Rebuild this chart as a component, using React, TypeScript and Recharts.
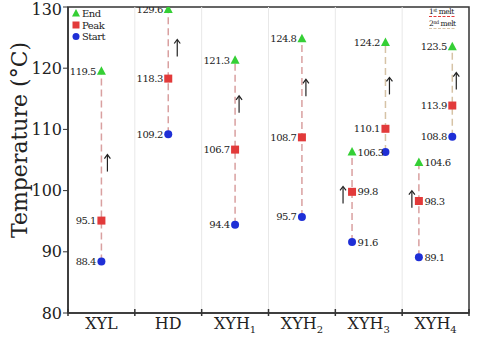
import React from 'react';
import {
  ComposedChart, Scatter, XAxis, YAxis, ReferenceLine, ReferenceArea, Customized,
} from 'recharts';

const categories = ['XYL', 'HD', 'XYH1', 'XYH2', 'XYH3', 'XYH4'];
const yTicks = [80, 90, 100, 110, 120, 130];

// 1st melt (all samples)
const firstStart = [88.4, 109.2, 94.4, 95.7, 91.6, 89.1];
const firstPeak = [95.1, 118.3, 106.7, 108.7, 99.8, 98.3];
const firstEnd = [119.5, 129.6, 121.3, 124.8, 106.3, 104.6];
// 2nd melt (only XYH3 / XYH4)
const secondStart = [null, null, null, null, 106.3, 108.8];
const secondPeak = [null, null, null, null, 110.1, 113.9];
const secondEnd = [null, null, null, null, 124.2, 123.5];
// arrow annotations (temperature at arrow middle)
const firstArrow = [104.5, 123.3, 114.1, 116.8, 99.3, 98.6];
const secondArrow = [null, null, null, null, 117.1, 117.9];

// Liberation Serif resolves to a sans face in this sandbox, so use DejaVu Serif
const FONT = 'DejaVu Serif';
const GREEN = '#35cf35';
const RED = '#e23a3a';
const BLUE = '#1f2fd6';
const DASH1 = '#d9a0a0';
const DASH2 = '#d6c3a6';
const AXIS = '#333';

type Pt = { x: number; y: number; side: 'left' | 'right' | 'none'; shift?: number };

const hasSecond = (i: number) => secondStart[i] != null;
const xFirst = (i: number) => (hasSecond(i) ? i + 0.25 : i + 0.5);
const xSecond = (i: number) => i + 0.75;

function pts(vals: (number | null)[], xf: (i: number) => number, sideOf: (i: number) => Pt['side']): Pt[] {
  const out: Pt[] = [];
  vals.forEach((v, i) => {
    if (v != null) out.push({ x: xf(i), y: v, side: sideOf(i) });
  });
  return out;
}

const side1 = (i: number) => (hasSecond(i) ? 'right' : 'left') as Pt['side'];
const side2 = () => 'left' as Pt['side'];

const startPts = [
  ...pts(firstStart, xFirst, side1),
  // XYH3 2nd-melt start shares its label with the 1st-melt end
  ...pts(secondStart, xSecond, (i) => (i === 4 ? 'none' : 'left')),
];
const peakPts = [...pts(firstPeak, xFirst, side1), ...pts(secondPeak, xSecond, side2)];
const endPts = [...pts(firstEnd, xFirst, side1), ...pts(secondEnd, xSecond, side2)];

const arrowShiftFirst = [6, 9, 4, 4, -9, -7];
const arrowPts = [
  ...firstArrow.map((v, i) => ({ x: xFirst(i), y: v, shift: arrowShiftFirst[i] })),
  ...secondArrow
    .map((v, i) => (v == null ? null : { x: xSecond(i), y: v, shift: 4 }))
    .filter(Boolean),
];

const segments = categories.flatMap((_, i) => {
  const segs = [{ key: `f${i}`, color: DASH1, data: [{ x: xFirst(i), y: firstStart[i] }, { x: xFirst(i), y: firstEnd[i] }] }];
  if (hasSecond(i)) {
    segs.push({ key: `s${i}`, color: DASH2, data: [{ x: xSecond(i), y: secondStart[i] as number }, { x: xSecond(i), y: secondEnd[i] as number }] });
  }
  return segs;
});

const serif = { fontFamily: FONT } as React.CSSProperties;
const tight = { fontFamily: FONT, letterSpacing: -0.5 } as React.CSSProperties;

function valueLabel(cx: number, cy: number, v: number, side: Pt['side']) {
  if (side === 'none') return null;
  const left = side === 'left';
  return (
    <text x={left ? cx - 5.5 : cx + 5.5} y={cy} dy="0.35em" textAnchor={left ? 'end' : 'start'}
      style={tight} fontSize={10} fill="#222">
      {v.toFixed(1)}
    </text>
  );
}

const Circle = (p: any) => (
  <g>
    <circle cx={p.cx} cy={p.cy} r={4} fill={BLUE} />
    {valueLabel(p.cx, p.cy, p.payload.y, p.payload.side)}
  </g>
);
const Square = (p: any) => (
  <g>
    <rect x={p.cx - 4} y={p.cy - 4} width={8} height={8} fill={RED} />
    {valueLabel(p.cx, p.cy, p.payload.y, p.payload.side)}
  </g>
);
const Triangle = (p: any) => (
  <g>
    <path d={`M${p.cx},${p.cy - 5} L${p.cx + 4.5},${p.cy + 3.5} L${p.cx - 4.5},${p.cy + 3.5} Z`} fill={GREEN} />
    {valueLabel(p.cx, p.cy, p.payload.y, p.payload.side)}
  </g>
);
const Arrow = (p: any) => {
  const x = p.cx + (p.payload.shift ?? 0);
  const y = p.cy;
  return (
    <g stroke="#222" strokeWidth={1.2} fill="none">
      <line x1={x} y1={y + 8.5} x2={x} y2={y - 8} />
      <path d={`M${x - 3},${y - 4.5} L${x},${y - 8.5} L${x + 3},${y - 4.5}`} />
    </g>
  );
};
const Nothing = () => <g />;

const XTick = (p: any) => {
  const v = p.payload.value as number;
  if (Number.isInteger(v)) {
    return <line x1={p.x} y1={p.y - 4} x2={p.x} y2={p.y + 3} stroke={AXIS} strokeWidth={1.5} />;
  }
  const name = categories[Math.floor(v)];
  const m = name.match(/^(XYH)(\d)$/);
  return (
    <text x={p.x} y={p.y + 16} textAnchor="middle" style={serif} fontSize={16} fill="#222">
      {m ? (
        <>
          {m[1]}
          <tspan dy={4} fontSize={10}>{m[2]}</tspan>
        </>
      ) : name}
    </text>
  );
};

const YTick = (p: any) => (
  <text x={p.x} y={p.y} dy="0.35em" textAnchor="end" style={serif} fontSize={16} fill="#222">
    {p.payload.value}
  </text>
);

const legendItems = [
  { name: 'End', color: GREEN, shape: 'triangle' },
  { name: 'Peak', color: RED, shape: 'square' },
  { name: 'Start', color: BLUE, shape: 'circle' },
];

const Legends = () => (
  <g fill="#222">
    {legendItems.map((it, k) => {
      const cx = 76;
      const cy = 13.5 + k * 11.5;
      return (
        <g key={it.name}>
          {it.shape === 'triangle' && (
            <path d={`M${cx},${cy - 4.5} L${cx + 4},${cy + 3} L${cx - 4},${cy + 3} Z`} fill={it.color} />
          )}
          {it.shape === 'square' && <rect x={cx - 3.5} y={cy - 3.5} width={7} height={7} fill={it.color} />}
          {it.shape === 'circle' && <circle cx={cx} cy={cy} r={3.5} fill={it.color} />}
          <text x={cx + 6} y={cy} dy="0.35em" fontSize={10} style={tight}>{it.name}</text>
        </g>
      );
    })}
    <text x={429} y={14} fontSize={7.5} style={tight}>1<tspan dy={-2.5} fontSize={5}>st</tspan><tspan dy={2.5}> melt</tspan></text>
    <line x1={429} y1={16.5} x2={456} y2={16.5} stroke={RED} strokeWidth={1} strokeDasharray="3 1.5" />
    <text x={429} y={26} fontSize={7.5} style={tight}>2<tspan dy={-2.5} fontSize={5}>nd</tspan><tspan dy={2.5}> melt</tspan></text>
    <line x1={429} y1={28.5} x2={456} y2={28.5} stroke={DASH2} strokeWidth={1} strokeDasharray="3 1.5" />
  </g>
);

export default function App() {
  const xTicks = Array.from({ length: 13 }, (_, k) => k / 2);
  return (
    <div style={{ position: 'absolute', left: 0, top: 0, background: '#fff', fontFamily: FONT }}>
      <ComposedChart width={480} height={344} margin={{ top: 7, right: 11, bottom: 0, left: 0 }}>
        {[1, 2, 3, 4, 5].map((v) => (
          <ReferenceLine key={v} x={v} stroke="#e8e8e8" strokeWidth={1} />
        ))}
        <XAxis
          type="number"
          dataKey="x"
          domain={[0, 6]}
          ticks={xTicks}
          interval={0}
          height={31}
          tickLine={false}
          tickSize={0}
          tickMargin={0}
          tick={<XTick />}
          axisLine={{ stroke: AXIS, strokeWidth: 1.5 }}
          allowDataOverflow
        />
        <YAxis
          type="number"
          dataKey="y"
          domain={[80, 130]}
          ticks={yTicks}
          width={68}
          tickSize={5}
          tickMargin={1}
          tick={<YTick />}
          tickLine={{ stroke: AXIS }}
          axisLine={{ stroke: AXIS, strokeWidth: 1.5 }}
          label={(props: any) => {
            const vb = props.viewBox;
            return (
              <text
                transform={`translate(${19},${vb.y + vb.height / 2 - 20}) rotate(-90)`}
                textAnchor="middle" dominantBaseline="central"
                style={serif} fontSize={22} fill="#222"
              >
                Temperature (°C)
              </text>
            );
          }}
          allowDataOverflow
        />
        <ReferenceArea x1={0} x2={6} y1={80} y2={130} fill="none" stroke={AXIS} strokeWidth={1.5} />
        {segments.map((s) => (
          <Scatter
            key={s.key}
            data={s.data}
            line={{ stroke: s.color, strokeWidth: 1.5, strokeDasharray: '7 4' }}
            shape={<Nothing />}
            isAnimationActive={false}
          />
        ))}
        <Scatter data={arrowPts as any[]} shape={<Arrow />} isAnimationActive={false} />
        <Scatter data={startPts} shape={<Circle />} isAnimationActive={false} />
        <Scatter data={peakPts} shape={<Square />} isAnimationActive={false} />
        <Scatter data={endPts} shape={<Triangle />} isAnimationActive={false} />
        <Customized component={Legends} />
      </ComposedChart>
    </div>
  );
}
